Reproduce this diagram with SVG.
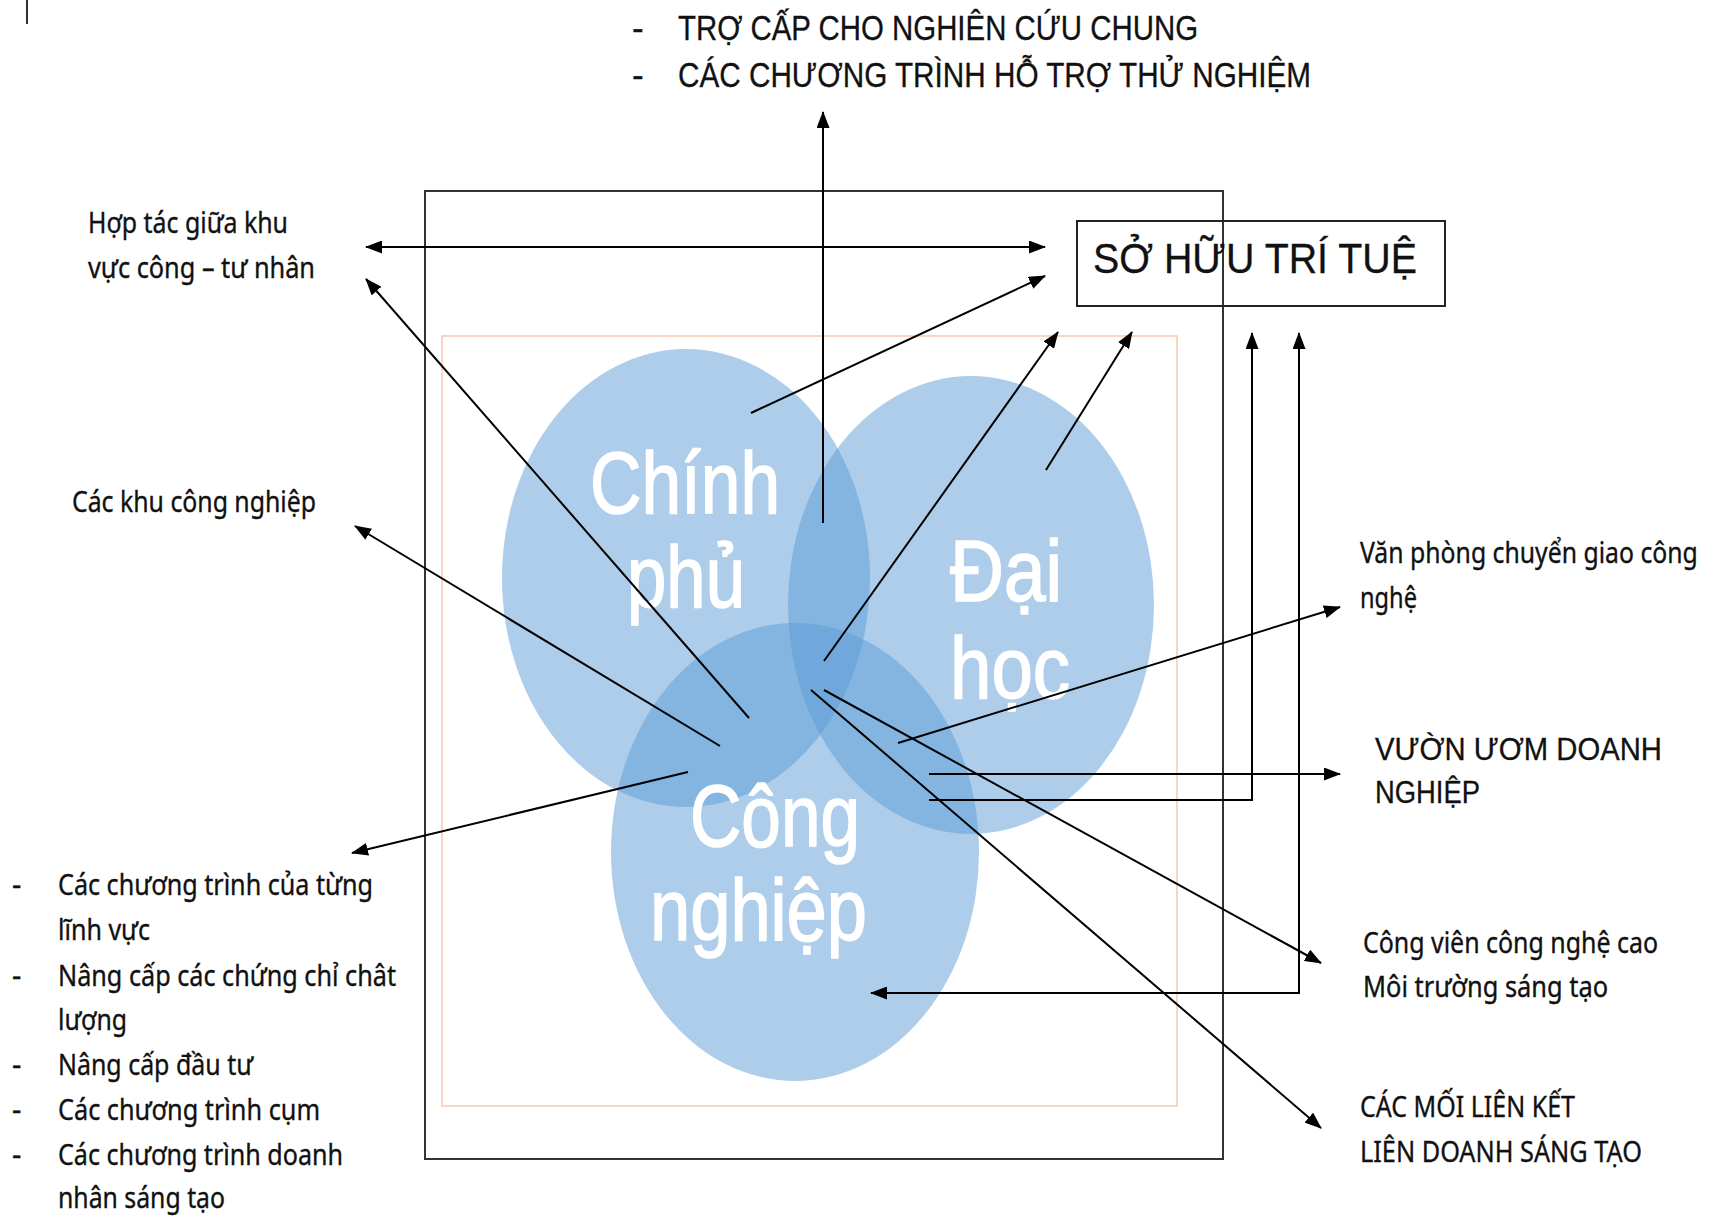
<svg xmlns="http://www.w3.org/2000/svg" width="1720" height="1217" viewBox="0 0 1720 1217">
<defs>
<marker id="ah" viewBox="0 0 17 13" refX="16" refY="6.5" markerWidth="17" markerHeight="13" markerUnits="userSpaceOnUse" orient="auto-start-reverse">
<path d="M0,0 L17,6.5 L0,13 z" fill="#000"/>
</marker>
<style>
.lbl{font-family:"Noto Sans","Open Sans","DejaVu Sans",sans-serif;font-size:29px;fill:#111;stroke:#111;stroke-width:0.35}
.arl{font-family:"Liberation Sans",Arial,sans-serif;fill:#111;stroke:#111;stroke-width:0.3}
.big{font-family:"Liberation Sans",Arial,sans-serif;font-size:88px;fill:#fff;stroke:#fff;stroke-width:1.6}
.circ{fill:#5b9bd5;fill-opacity:0.5}
.con{fill:none;stroke:#000;stroke-width:2}
.arr{marker-end:url(#ah)}
.dbl{marker-start:url(#ah);marker-end:url(#ah)}
</style>
</defs>
<rect width="1720" height="1217" fill="#fff"/>
<line x1="27" y1="0" x2="27" y2="24" stroke="#333" stroke-width="2"/>

<g id="frame">
<rect x="425" y="191" width="798" height="968" fill="none" stroke="#333" stroke-width="2"/>
<rect x="442" y="336" width="735" height="770" fill="none" stroke="#f6c9b0" stroke-width="1.5"/>
</g>

<g id="circles">
<g id="chinh-phu"><ellipse class="circ" cx="686" cy="578" rx="184" ry="229"/></g>
<g id="dai-hoc"><ellipse class="circ" cx="971" cy="605" rx="183" ry="229"/></g>
<g id="cong-nghiep"><ellipse class="circ" cx="795" cy="852" rx="184" ry="229"/></g>
</g>

<g id="circle-labels">
<text class="big" x="590" y="513" textLength="190" lengthAdjust="spacingAndGlyphs">Chính</text>
<text class="big" x="627" y="607" textLength="118" lengthAdjust="spacingAndGlyphs">phủ</text>
<text class="big" x="950" y="601" textLength="112" lengthAdjust="spacingAndGlyphs">Đại</text>
<text class="big" x="950" y="698" textLength="120" lengthAdjust="spacingAndGlyphs">học</text>
<text class="big" x="690" y="846" textLength="170" lengthAdjust="spacingAndGlyphs">Công</text>
<text class="big" x="650" y="940" textLength="217" lengthAdjust="spacingAndGlyphs">nghiệp</text>
</g>

<g id="so-huu-tri-tue">
<rect x="1077" y="221" width="368" height="85" fill="none" stroke="#222" stroke-width="2"/>
<text class="arl" x="1093" y="273" font-size="43" textLength="324" lengthAdjust="spacingAndGlyphs">SỞ HỮU TRÍ TUỆ</text>
</g>

<g id="tro-cap">
<text class="arl" x="632" y="40" font-size="35">-</text>
<text class="arl" x="678" y="40" font-size="35" textLength="520" lengthAdjust="spacingAndGlyphs">TRỢ CẤP CHO NGHIÊN CỨU CHUNG</text>
<text class="arl" x="632" y="87" font-size="35">-</text>
<text class="arl" x="678" y="87" font-size="35" textLength="633" lengthAdjust="spacingAndGlyphs">CÁC CHƯƠNG TRÌNH HỖ TRỢ THỬ NGHIỆM</text>
</g>

<g id="hop-tac">
<text class="lbl" x="88" y="233" textLength="200" lengthAdjust="spacingAndGlyphs">Hợp tác giữa khu</text>
<text class="lbl" x="88" y="278" textLength="227" lengthAdjust="spacingAndGlyphs">vực công – tư nhân</text>
</g>

<g id="cac-khu">
<text class="lbl" x="72" y="512" textLength="244" lengthAdjust="spacingAndGlyphs">Các khu công nghiệp</text>
</g>

<g id="chuong-trinh-list">
<text class="lbl" x="12" y="895">-</text>
<text class="lbl" x="58" y="895" textLength="315" lengthAdjust="spacingAndGlyphs">Các chương trình của từng</text>
<text class="lbl" x="58" y="940" textLength="92" lengthAdjust="spacingAndGlyphs">lĩnh vực</text>
<text class="lbl" x="12" y="986">-</text>
<text class="lbl" x="58" y="986" textLength="338" lengthAdjust="spacingAndGlyphs">Nâng cấp các chứng chỉ chât</text>
<text class="lbl" x="58" y="1030" textLength="69" lengthAdjust="spacingAndGlyphs">lượng</text>
<text class="lbl" x="12" y="1075">-</text>
<text class="lbl" x="58" y="1075" textLength="195" lengthAdjust="spacingAndGlyphs">Nâng cấp đầu tư</text>
<text class="lbl" x="12" y="1120">-</text>
<text class="lbl" x="58" y="1120" textLength="262" lengthAdjust="spacingAndGlyphs">Các chương trình cụm</text>
<text class="lbl" x="12" y="1165">-</text>
<text class="lbl" x="58" y="1165" textLength="285" lengthAdjust="spacingAndGlyphs">Các chương trình doanh</text>
<text class="lbl" x="58" y="1208" textLength="167" lengthAdjust="spacingAndGlyphs">nhân sáng tạo</text>
</g>

<g id="van-phong">
<text class="lbl" transform="translate(1360,563) scale(0.82,1)" x="0" y="0" textLength="412" lengthAdjust="spacingAndGlyphs">Văn phòng chuyển giao công</text>
<text class="lbl" x="1360" y="608" textLength="57" lengthAdjust="spacingAndGlyphs">nghệ</text>
</g>

<g id="vuon-uom">
<text class="arl" x="1375" y="760" font-size="31" textLength="287" lengthAdjust="spacingAndGlyphs">VƯỜN ƯƠM DOANH</text>
<text class="arl" x="1375" y="803" font-size="31" textLength="105" lengthAdjust="spacingAndGlyphs">NGHIỆP</text>
</g>

<g id="cong-vien">
<text class="lbl" x="1363" y="953" textLength="295" lengthAdjust="spacingAndGlyphs">Công viên công nghệ cao</text>
<text class="lbl" x="1363" y="997" textLength="245" lengthAdjust="spacingAndGlyphs">Môi trường sáng tạo</text>
</g>

<g id="moi-lien-ket">
<text class="lbl" x="1360" y="1117" textLength="215" lengthAdjust="spacingAndGlyphs">CÁC MỐI LIÊN KẾT</text>
<text class="lbl" x="1360" y="1162" textLength="282" lengthAdjust="spacingAndGlyphs">LIÊN DOANH SÁNG TẠO</text>
</g>

<g id="connectors">
<line class="con dbl" x1="366" y1="247" x2="1045" y2="247"/>
<line class="con arr" x1="751" y1="413" x2="1045" y2="276"/>
<line class="con arr" x1="823" y1="523" x2="823" y2="112"/>
<line class="con arr" x1="749" y1="718" x2="366" y2="279"/>
<line class="con arr" x1="720" y1="746" x2="355" y2="526"/>
<line class="con arr" x1="688" y1="772" x2="352" y2="853"/>
<line class="con arr" x1="824" y1="661" x2="1058" y2="332"/>
<line class="con arr" x1="1046" y1="470" x2="1132" y2="332"/>
<polyline class="con arr" points="929,800 1252,800 1252,333"/>
<polyline class="con dbl" points="871,993 1299,993 1299,333"/>
<line class="con arr" x1="929" y1="774" x2="1340" y2="774"/>
<line class="con arr" x1="898" y1="743" x2="1340" y2="607"/>
<line class="con arr" x1="824" y1="690" x2="1321" y2="963"/>
<line class="con arr" x1="811" y1="690" x2="1321" y2="1128"/>
</g>
</svg>
